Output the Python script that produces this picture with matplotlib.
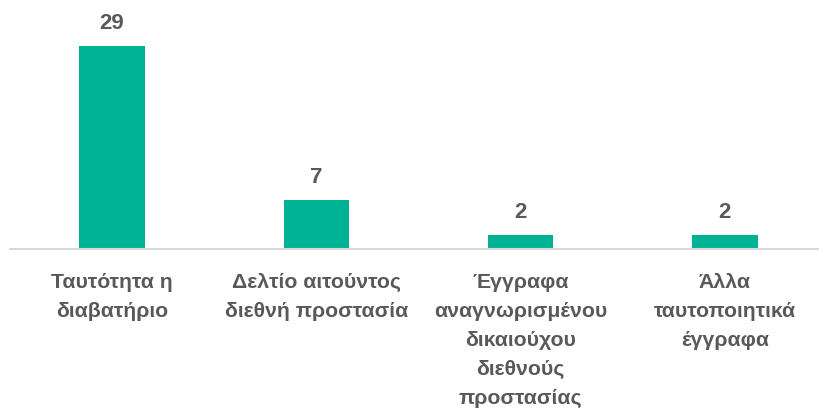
import matplotlib
matplotlib.use("Agg")
import matplotlib.pyplot as plt

categories = [
    "Ταυτότητα η\nδιαβατήριο",
    "Δελτίο αιτούντος\nδιεθνή προστασία",
    "Έγγραφα\nαναγνωρισμένου\nδικαιούχου\nδιεθνούς\nπροστασίας",
    "Άλλα\nταυτοποιητικά\nέγγραφα",
]
values = [29, 7, 2, 2]

bar_color = "#00B294"
text_color = "#595959"
plt.rcParams["font.family"] = ["Liberation Sans Narrow", "Liberation Sans", "DejaVu Sans"]

fig = plt.figure(figsize=(8.2, 4.13), dpi=100)
W, H = 820, 413
# axes spans 10px .. 827px horizontally, baseline at y=249px
ax = fig.add_axes([10 / W, (H - 249) / H, 817 / W, 224 / H])
x = range(len(values))
bars = ax.bar(x, values, width=0.32, color=bar_color, zorder=2)
ax.set_xlim(-0.5, 3.5)
ax.set_ylim(0, 32)

for rect, v in zip(bars, values):
    ax.annotate(str(v), (rect.get_x() + rect.get_width() / 2, v),
                xytext=(0, 8.5), textcoords="offset points",
                ha="center", va="bottom", fontsize=16, fontweight="bold",
                color=text_color, annotation_clip=False)

for s in ["top", "right", "left"]:
    ax.spines[s].set_visible(False)
ax.spines["bottom"].set_color("#D9D9D9")
ax.spines["bottom"].set_linewidth(1.5)
ax.set_yticks([])
ax.set_xticks(list(x))
ax.set_xticklabels(categories, fontsize=15.3, fontweight="bold", color=text_color,
                   linespacing=1.68)
ax.tick_params(axis="x", length=0, pad=17)

fig.savefig("out.png", dpi=100)
